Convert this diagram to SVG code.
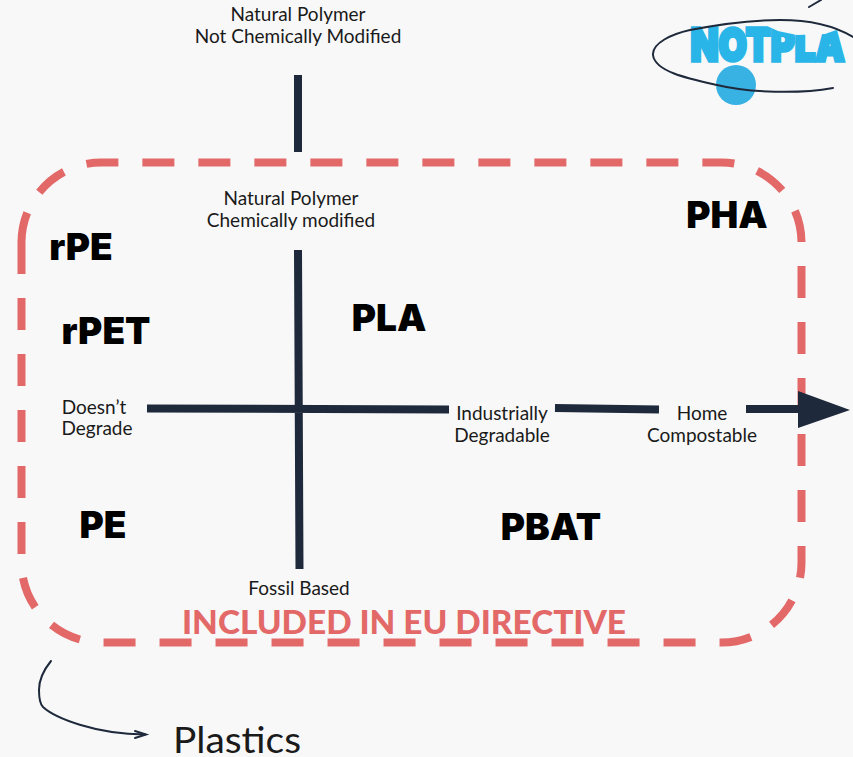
<svg xmlns="http://www.w3.org/2000/svg" width="853" height="757" viewBox="0 0 853 757">
<style>
text{font-family:"Lato","Noto Sans","Liberation Sans",sans-serif}
.l{font-size:19px;fill:#1a1a1a;text-anchor:middle}
.b{font-family:"Inter","Lato","Liberation Sans",sans-serif;font-size:37px;font-weight:900;fill:#000;text-anchor:middle}
.ax{stroke:#1e293b;stroke-width:8;fill:none}
.thin{stroke:#1e293b;stroke-width:2;fill:none;stroke-linecap:round}
</style>
<rect width="853" height="757" fill="#f8f8f8"/>
<g id="frame"><path d="M21.500 242V562A80 80 0 0 0 101.500 642.500H721.500A80 80 0 0 0 801.500 562V242A80 80 0 0 0 721.500 162.500H101.500A80 80 0 0 0 21.500 242Z" fill="none" stroke="#e36868" stroke-width="8" stroke-dasharray="32 24"/></g>
<g id="connectors">
<path class="ax" d="M298 75V152M298 250 299.500 569M147 408.500 449 409.500M555 408 659 409.500M746 409H810"/>
<polygon points="798,391 850,410 798,428" fill="#1e293b"/>
<path class="thin" d="M51 661C42 672 39 682 39 690C39 698 40 704 43 707C55 718 95 734 145 734.500"/>
<path class="thin" d="M135 731 146 734.500 135 738"/>
</g>
<g id="logo">
<text x="767.500" y="60.500" font-size="46" font-weight="900" text-anchor="middle" fill="#29b5e8" stroke="#29b5e8" stroke-width="3.500" textLength="154" lengthAdjust="spacingAndGlyphs" style="font-family:Inter,Lato,sans-serif">NOTPLA</text>
<polygon points="765,25 850,25 842,28 825,34 797,35 778,31" fill="#f8f8f8"/>
<circle cx="736" cy="85" r="20" fill="#38b1e3"/>
<path class="thin" d="M833 88C800 94 750 93 717 85C690 79 655 72 653 55C652 43 672 34 690 30C720 24 750 20 780 20C810 20 835 26 853 37"/>
<path class="thin" d="M809 7 821 0"/>
</g>
<g id="top-label"><text class="l" x="298" y="21">Natural Polymer</text><text class="l" x="298" y="43">Not Chemically Modified</text></g>
<g id="mid-label"><text class="l" x="291" y="205">Natural Polymer</text><text class="l" x="291" y="227">Chemically modified</text></g>
<g id="left-label"><text class="l" x="94" y="413.500">Doesn’t</text><text class="l" x="97" y="434.500">Degrade</text></g>
<g id="ind-label"><text class="l" x="502" y="420">Industrially</text><text class="l" x="502" y="442">Degradable</text></g>
<g id="home-label"><text class="l" x="702" y="420">Home</text><text class="l" x="702" y="442">Compostable</text></g>
<g id="fossil-label"><text class="l" x="299" y="595">Fossil Based</text></g>
<g id="rpe"><text class="b" x="81" y="260">rPE</text></g>
<g id="rpet"><text class="b" x="106" y="344">rPET</text></g>
<g id="pla"><text class="b" x="389" y="331">PLA</text></g>
<g id="pha"><text class="b" x="727" y="228">PHA</text></g>
<g id="pe"><text class="b" x="103" y="538">PE</text></g>
<g id="pbat"><text class="b" x="551" y="540">PBAT</text></g>
<g id="directive"><text x="404" y="634" font-size="32" font-weight="900" fill="#e36868" text-anchor="middle" textLength="444" lengthAdjust="spacingAndGlyphs">INCLUDED IN EU DIRECTIVE</text></g>
<g id="plastics"><text x="237" y="753" font-size="36" fill="#1a1a1a" text-anchor="middle" textLength="128" lengthAdjust="spacingAndGlyphs">Plastics</text></g>
</svg>
